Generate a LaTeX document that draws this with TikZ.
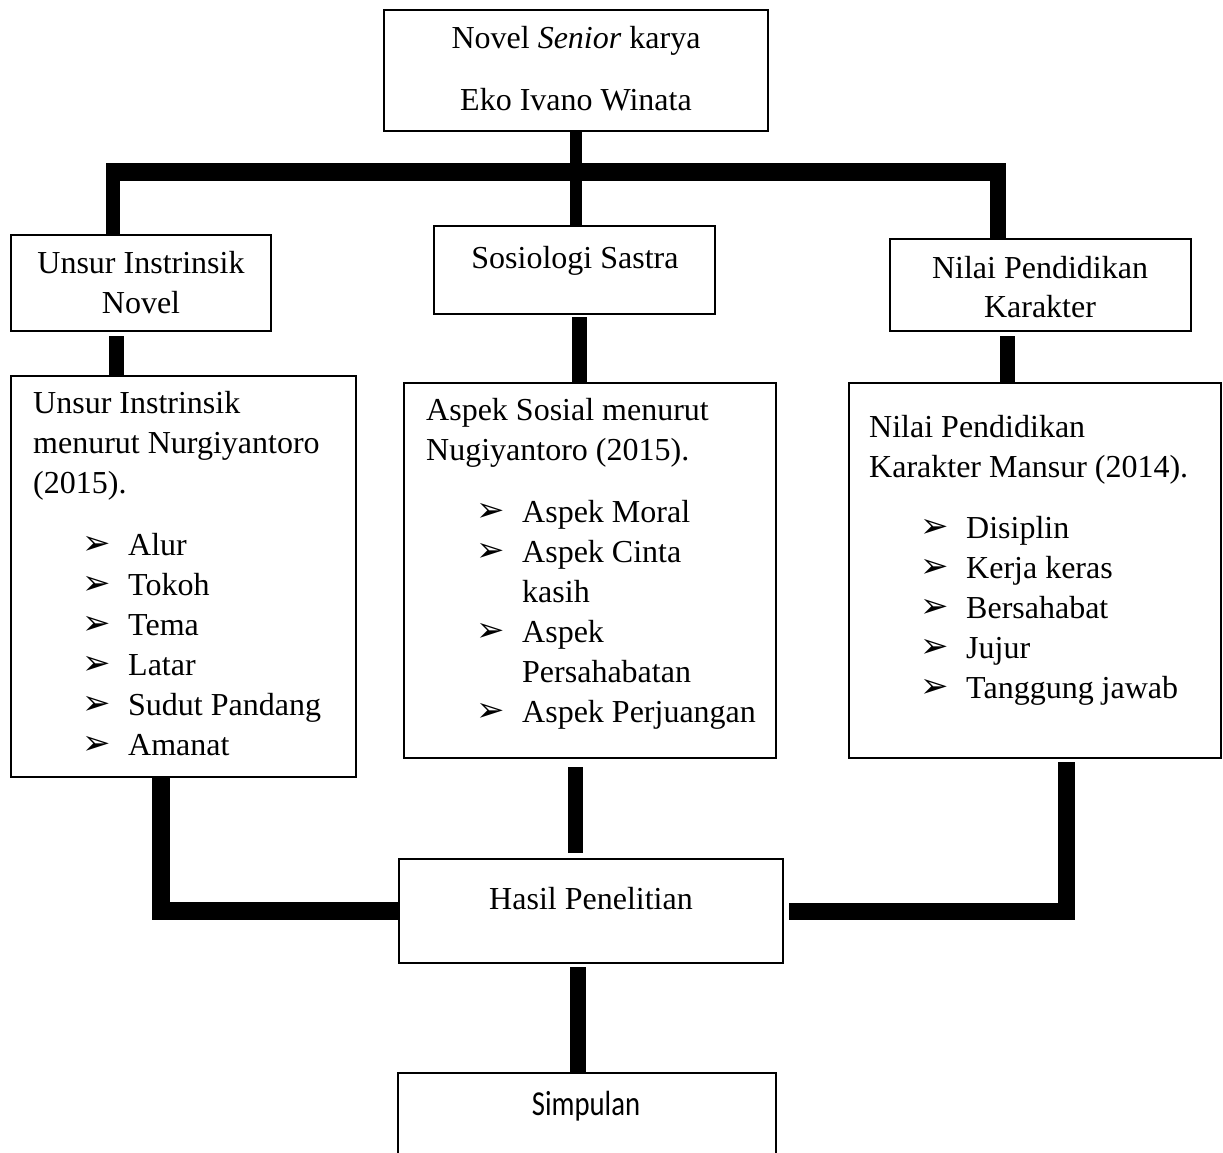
\documentclass[tikz,border=0pt]{standalone}
\usepackage{fontspec}
\setmainfont{Liberation Serif}
\newfontfamily\dejavu{DejaVu Sans}
\newfontfamily\calib{Carlito}[FakeStretch=0.82]
\newcommand{\bul}{{\dejavu\fontsize{34}{34}\selectfont\raisebox{1pt}{➢}}}
\newcommand{\itm}[1]{\makebox[46pt][l]{\bul}#1}
\newcommand{\itx}[1]{\makebox[46pt][l]{}#1}
\begin{document}
\begin{tikzpicture}[x=1pt,y=-1pt,
  box/.style={draw, line width=2pt, anchor=north west, inner sep=0pt},
  txt/.style={font=\fontsize{32}{40}\selectfont, inner sep=0pt},
  conn/.style={draw, line width=#1, line join=miter}]
\clip (0,0) rectangle (1223,1152);
\fill[white] (0,0) rectangle (1223,1152);

% boxes
\node[box, minimum width=384pt, minimum height=121pt] (top) at (383,9) {};
\node[box, minimum width=260pt, minimum height=96pt] (unsur) at (10,234) {};
\node[box, minimum width=281pt, minimum height=88pt] (sos) at (433,225) {};
\node[box, minimum width=301pt, minimum height=92pt] (nilai) at (889,238) {};
\node[box, minimum width=345pt, minimum height=401pt] (lt) at (10,375) {};
\node[box, minimum width=372pt, minimum height=375pt] (lm) at (403,382) {};
\node[box, minimum width=372pt, minimum height=375pt] (rt) at (848,382) {};
\node[box, minimum width=384pt, minimum height=104pt] (hasil) at (398,858) {};
\node[box, minimum width=378pt, minimum height=110pt] (simp) at (397,1072) {};

% top texts
\node[txt, anchor=base] (top1) at (576,48) {Novel \textit{Senior} karya};
\node[txt, anchor=base] (top2) at (576,110) {Eko Ivano Winata};
\node[txt, anchor=base] (un1) at (141,273) {Unsur Instrinsik};
\node[txt, anchor=base] (un2) at (141,313) {Novel};
\node[txt, anchor=base] (so1) at (575,268) {Sosiologi Sastra};
\node[txt, anchor=base] (ni1) at (1040,278) {Nilai Pendidikan};
\node[txt, anchor=base] (ni2) at (1040,317) {Karakter};

% left list
\node[txt, anchor=base west] (lh1) at (33,413) {Unsur Instrinsik};
\node[txt, anchor=base west] (lh2) at (33,453) {menurut Nurgiyantoro};
\node[txt, anchor=base west] (lh3) at (33,493) {(2015).};
\foreach \t [count=\i] in {Alur,Tokoh,Tema,Latar,Sudut Pandang,Amanat}
  \node[txt, anchor=base west] (li\i) at (82,515+40*\i) {\itm{\t}};

% middle list
\node[txt, anchor=base west] (mh1) at (426,420) {Aspek Sosial menurut};
\node[txt, anchor=base west] (mh2) at (426,460) {Nugiyantoro (2015).};
\node[txt, anchor=base west] (mi1) at (476,522) {\itm{Aspek Moral}};
\node[txt, anchor=base west] (mi2) at (476,562) {\itm{Aspek Cinta}};
\node[txt, anchor=base west] (mi3) at (476,602) {\itx{kasih}};
\node[txt, anchor=base west] (mi4) at (476,642) {\itm{Aspek}};
\node[txt, anchor=base west] (mi5) at (476,682) {\itx{Persahabatan}};
\node[txt, anchor=base west] (mi6) at (476,722) {\itm{Aspek Perjuangan}};

% right list
\node[txt, anchor=base west] (rh1) at (869,437) {Nilai Pendidikan};
\node[txt, anchor=base west] (rh2) at (869,477) {Karakter Mansur (2014).};
\foreach \t [count=\i] in {Disiplin,Kerja keras,Bersahabat,Jujur,Tanggung jawab}
  \node[txt, anchor=base west] (ri\i) at (920,498+40*\i) {\itm{\t}};

% bottom texts
\node[txt, anchor=base] (ha1) at (591,909) {Hasil Penelitian};
\node[inner sep=0pt, anchor=base, font=\calib\fontsize{35}{40}\selectfont] (si1) at (586,1115) {Simpulan};

% connectors
\coordinate (jL) at (113,172);
\coordinate (jR) at (998,172);
\draw[conn=12pt] (top.south) -- (top.south |- sos.north);
\draw[conn=18pt] ([xshift=-7pt]jL) -- ([xshift=8pt]jR);
\draw[conn=14pt] ([yshift=9pt]jL) -- (jL |- unsur.north);
\draw[conn=16pt] ([yshift=9pt]jR) -- (jR |- nilai.north);
\draw[conn=15pt, shorten <=4pt] ([xshift=-25pt]unsur.south) -- ([xshift=-25pt]unsur.south |- lt.north);
\draw[conn=15pt, shorten <=2pt] ([xshift=4.5pt]sos.south) -- ([xshift=4.5pt]sos.south |- lm.north);
\draw[conn=15pt, shorten <=4pt] ([xshift=-33.5pt]nilai.south) -- ([xshift=-33.5pt]nilai.south |- rt.north);
\draw[conn=18pt] ([xshift=-22.5pt]lt.south) |- (hasil.west);
\draw[conn=15pt, shorten <=8pt, shorten >=5pt] ([xshift=-15pt]lm.south) -- ([xshift=-15pt]lm.south |- hasil.north);
\draw[conn=17pt, shorten <=3pt, shorten >=5pt] ([xshift=31pt]rt.south) |- (hasil.east);
\draw[conn=16pt, shorten <=3pt] ([xshift=-13pt]hasil.south) -- ([xshift=-13pt]hasil.south |- simp.north);
\end{tikzpicture}
\end{document}
